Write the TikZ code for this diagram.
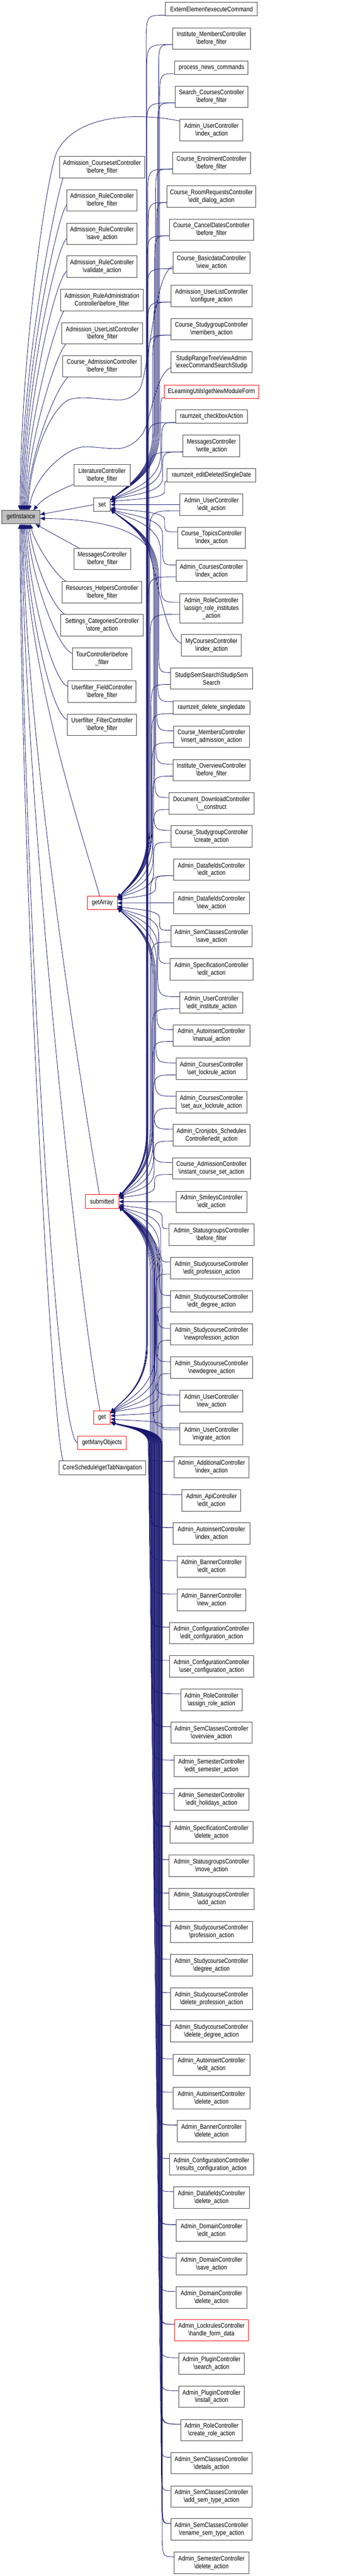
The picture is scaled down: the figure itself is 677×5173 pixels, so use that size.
\documentclass[tikz,border=0pt]{standalone}
\usepackage{fontspec}
\setmainfont{Liberation Sans}[FakeStretch=0.83]
\usetikzlibrary{arrows.meta,calc,backgrounds}
\definecolor{edgecol}{HTML}{191970}
\definecolor{boxgray}{HTML}{404040}
\definecolor{nodegray}{HTML}{BFBFBF}
\newcommand\bs{\textbackslash}
\newcommand\DGnode[7][box]{\node[#1,minimum width=#5*0.75pt,minimum height=#6*0.75pt] (#2) at (#3,-#4) {#7};}
\newcommand\DGright[6][box]{\DGnode[#1]{#2}{424}{#3}{#4}{#5}{#6}}
% #1 cap of final bend (pt), #2 source, #3 target, #4 corridor x (px)
\newcommand\DGedge[4][110]{%
 \draw[calledge] let \p1=(#2.west), \p2=(#3.east),
   \n1={ifthenelse(\y2>\y1,1,-1)}, \n2={abs(\y2-\y1)},
   \n3={min(0.25*\n2,9)}, \n4={min(0.3*\n2,45)}, \n5={min(0.45*\n2,#1)}, \n6={min(0.1*\n2,7)},
   \n7={#4*0.75} in
   (\x1,{\y1+\n1*\n3*1pt})
   .. controls ({\n7*1pt},{\y1+\n1*\n3*1pt}) .. ({\n7*1pt},{\y1+\n1*(\n3+\n4)*1pt})
   -- ({\n7*1pt},{\y2-\n1*\n5*1pt})
   .. controls ({\n7*1pt},{\y2-\n1*0.45*\n5*1pt}) and ({\x2+0.4*(\n7*1pt-\x2)},{\y2-\n1*(\n6+0.2*\n5)*1pt}) .. (\x2,{\y2-\n1*\n6*1pt});%
}
\begin{document}
\begin{tikzpicture}[x=0.75pt,y=0.75pt,
  box/.style={draw=boxgray,line width=0.75pt,fill=white,inner sep=0pt,align=center,font=\fontsize{10}{11.6}\selectfont},
  redbox/.style={box,draw=red},
  graybox/.style={box,fill=nodegray,draw=boxgray},
  calledge/.style={draw=edgecol,line width=0.65pt,-{Triangle[length=7pt,width=6pt]}}]
\useasboundingbox (0,0) rectangle (677,-5173);
% middle column
\DGnode[graybox]{gi}{42}{1038.5}{76}{27}{getInstance}
\DGnode{set}{204.5}{1013.5}{33}{27}{set}
\DGnode[redbox]{getArray}{205}{1813.5}{60}{27}{getArray}
\DGnode[redbox]{submitted}{204.5}{2413}{67}{28}{submitted}
\DGnode[redbox]{get}{204.5}{2846.5}{33}{27}{get}
\DGnode[redbox]{gmo}{204.5}{2897.5}{97}{27}{getManyObjects}
\DGnode{cs}{205}{2947.5}{174}{27}{CoreSchedule\bs getTabNavigation}
% left column
\DGnode{L1}{204.5}{335.5}{171}{43}{Admission\_CoursesetController\\\bs before\_filter}
\DGnode{L2}{204.5}{402.5}{141}{43}{Admission\_RuleController\\\bs before\_filter}
\DGnode{L3}{204.5}{469.5}{141}{43}{Admission\_RuleController\\\bs save\_action}
\DGnode{L4}{204.5}{535.5}{141}{43}{Admission\_RuleController\\\bs validate\_action}
\DGnode{L5}{204.5}{602.5}{165}{43}{Admission\_RuleAdministration\\Controller\bs before\_filter}
\DGnode{L6}{205}{669.5}{162}{43}{Admission\_UserListController\\\bs before\_filter}
\DGnode{L7}{204.5}{735.5}{157}{43}{Course\_AdmissionController\\\bs before\_filter}
\DGnode{L8}{204.5}{954.5}{113}{43}{LiteratureController\\\bs before\_filter}
\DGnode{L9}{205}{1122.5}{114}{43}{MessagesController\\\bs before\_filter}
\DGnode{L10}{204.5}{1189.5}{159}{43}{Resources\_HelpersController\\\bs before\_filter}
\DGnode{L11}{204.5}{1255.5}{165}{43}{Settings\_CategoriesController\\\bs store\_action}
\DGnode{L12}{204.5}{1322.5}{119}{43}{TourController\bs before\\\_filter}
\DGnode{L13}{204.5}{1389}{137}{43}{Userfilter\_FieldController\\\bs before\_filter}
\DGnode{L14}{204.5}{1455.5}{139}{43}{Userfilter\_FilterController\\\bs before\_filter}
% right column
\DGright{r1}{18.5}{184}{27}{ExternElement\bs executeCommand}
\DGright{r2}{77.5}{156}{43}{Institute\_MembersController\\\bs before\_filter}
\DGright{r3}{136}{147}{27}{process\_news\_commands}
\DGright{r4}{194.5}{146}{43}{Search\_CoursesController\\\bs before\_filter}
\DGright{r5}{261}{126}{43}{Admin\_UserController\\\bs index\_action}
\DGright{r6}{327.5}{156}{43}{Course\_EnrolmentController\\\bs before\_filter}
\DGright{r7}{394.5}{178}{43}{Course\_RoomRequestsController\\\bs edit\_dialog\_action}
\DGright{r8}{461.5}{168}{43}{Course\_CancelDatesController\\\bs before\_filter}
\DGright{r9}{527.5}{154}{43}{Course\_BasicdataController\\\bs view\_action}
\DGright{r10}{594.5}{162}{43}{Admission\_UserListController\\\bs configure\_action}
\DGright{r11}{661}{163}{43}{Course\_StudygroupController\\\bs members\_action}
\DGright{r12}{727.5}{162}{43}{StudipRangeTreeViewAdmin\\\bs execCommandSearchStudip}
\DGright[redbox]{r13}{786.5}{189}{27}{ELearningUtils\bs getNewModuleForm}
\DGright{r14}{836.5}{144}{27}{raumzeit\_checkboxAction}
\DGright{r15}{895.5}{114}{43}{MessagesController\\\bs write\_action}
\DGright{r16}{954.5}{178}{27}{raumzeit\_editDeletedSingleDate}
\DGright{r17}{1013.5}{126}{43}{Admin\_UserController\\\bs edit\_action}
\DGright{r18}{1080}{135}{43}{Course\_TopicsController\\\bs index\_action}
\DGright{r19}{1146.5}{142}{43}{Admin\_CoursesController\\\bs index\_action}
\DGright{r20}{1221.5}{126}{59}{Admin\_RoleController\\\bs assign\_role\_institutes\\\_action}
\DGright{r21}{1296}{120}{43}{MyCoursesController\\\bs index\_action}
\DGright{r22}{1362.5}{165}{43}{StudipSemSearch\bs StudipSem\\Search}
\DGright{r23}{1421}{154}{27}{raumzeit\_delete\_singledate}
\DGright{r24}{1479.5}{152}{43}{Course\_MembersController\\\bs insert\_admission\_action}
\DGright{r25}{1546.5}{154}{43}{Institute\_OverviewController\\\bs before\_filter}
\DGright{r26}{1613.5}{170}{43}{Document\_DownloadController\\\bs\_\_construct}
\DGright{r27}{1679.5}{163}{43}{Course\_StudygroupController\\\bs create\_action}
\DGright{r28}{1746.5}{152}{43}{Admin\_DatafieldsController\\\bs edit\_action}
\DGright{r29}{1813}{152}{43}{Admin\_DatafieldsController\\\bs new\_action}
\DGright{r30}{1880}{163}{43}{Admin\_SemClassesController\\\bs save\_action}
\DGright{r31}{1946.5}{166}{43}{Admin\_SpecificationController\\\bs edit\_action}
\DGright{r32}{2013.5}{126}{43}{Admin\_UserController\\\bs edit\_institute\_action}
\DGright{r33}{2079.5}{154}{43}{Admin\_AutoinsertController\\\bs manual\_action}
\DGright{r34}{2146.5}{142}{43}{Admin\_CoursesController\\\bs set\_lockrule\_action}
\DGright{r35}{2213.5}{142}{43}{Admin\_CoursesController\\\bs set\_aux\_lockrule\_action}
\DGright{r36}{2279.5}{154}{43}{Admin\_Cronjobs\_Schedules\\Controller\bs edit\_action}
\DGright{r37}{2346.5}{156}{43}{Course\_AdmissionController\\\bs instant\_course\_set\_action}
\DGright{r38}{2413.5}{142}{43}{Admin\_SmileysController\\\bs edit\_action}
\DGright{r39}{2479.5}{170}{43}{Admin\_StatusgroupsController\\\bs before\_filter}
\DGright{r40}{2546.5}{164}{43}{Admin\_StudycourseController\\\bs edit\_profession\_action}
\DGright{r41}{2613.5}{164}{43}{Admin\_StudycourseController\\\bs edit\_degree\_action}
\DGright{r42}{2679.5}{164}{43}{Admin\_StudycourseController\\\bs newprofession\_action}
\DGright{r43}{2746.5}{164}{43}{Admin\_StudycourseController\\\bs newdegree\_action}
\DGright{r44}{2813.5}{126}{43}{Admin\_UserController\\\bs new\_action}
\DGright{r45}{2879.5}{126}{43}{Admin\_UserController\\\bs migrate\_action}
\DGright{r46}{2946.5}{150}{43}{Admin\_AdditionalController\\\bs index\_action}
\DGright{r47}{3013.5}{118}{43}{Admin\_ApiController\\\bs edit\_action}
\DGright{r48}{3079.5}{154}{43}{Admin\_AutoinsertController\\\bs index\_action}
\DGright{r49}{3146}{138}{43}{Admin\_BannerController\\\bs edit\_action}
\DGright{r50}{3213}{138}{43}{Admin\_BannerController\\\bs new\_action}
\DGright{r51}{3279.5}{168}{43}{Admin\_ConfigurationController\\\bs edit\_configuration\_action}
\DGright{r52}{3346.5}{168}{43}{Admin\_ConfigurationController\\\bs user\_configuration\_action}
\DGright{r53}{3413.5}{123}{43}{Admin\_RoleController\\\bs assign\_role\_action}
\DGright{r54}{3479.5}{163}{43}{Admin\_SemClassesController\\\bs overview\_action}
\DGright{r55}{3546.5}{150}{43}{Admin\_SemesterController\\\bs edit\_semester\_action}
\DGright{r56}{3613.5}{150}{43}{Admin\_SemesterController\\\bs edit\_holidays\_action}
\DGright{r57}{3679.5}{166}{43}{Admin\_SpecificationController\\\bs delete\_action}
\DGright{r58}{3746.5}{170}{43}{Admin\_StatusgroupsController\\\bs move\_action}
\DGright{r59}{3813.5}{170}{43}{Admin\_StatusgroupsController\\\bs add\_action}
\DGright{r60}{3879.5}{164}{43}{Admin\_StudycourseController\\\bs profession\_action}
\DGright{r61}{3946.5}{164}{43}{Admin\_StudycourseController\\\bs degree\_action}
\DGright{r62}{4013.5}{164}{43}{Admin\_StudycourseController\\\bs delete\_profession\_action}
\DGright{r63}{4079.5}{164}{43}{Admin\_StudycourseController\\\bs delete\_degree\_action}
\DGright{r64}{4146.5}{154}{43}{Admin\_AutoinsertController\\\bs edit\_action}
\DGright{r65}{4213.5}{154}{43}{Admin\_AutoinsertController\\\bs delete\_action}
\DGright{r66}{4279.5}{138}{43}{Admin\_BannerController\\\bs delete\_action}
\DGright{r67}{4346.5}{168}{43}{Admin\_ConfigurationController\\\bs results\_configuration\_action}
\DGright{r68}{4413}{152}{43}{Admin\_DatafieldsController\\\bs delete\_action}
\DGright{r69}{4479.5}{142}{43}{Admin\_DomainController\\\bs edit\_action}
\DGright{r70}{4546.5}{142}{43}{Admin\_DomainController\\\bs save\_action}
\DGright{r71}{4613.5}{142}{43}{Admin\_DomainController\\\bs delete\_action}
\DGright[redbox]{r72}{4679.5}{148}{43}{Admin\_LockrulesController\\\bs handle\_form\_data}
\DGright{r73}{4746.5}{132}{43}{Admin\_PluginController\\\bs search\_action}
\DGright{r74}{4813}{132}{43}{Admin\_PluginController\\\bs install\_action}
\DGright{r75}{4880}{123}{43}{Admin\_RoleController\\\bs create\_role\_action}
\DGright{r76}{4946.5}{163}{43}{Admin\_SemClassesController\\\bs details\_action}
\DGright{r77}{5013.5}{163}{43}{Admin\_SemClassesController\\\bs add\_sem\_type\_action}
\DGright{r78}{5079.5}{163}{43}{Admin\_SemClassesController\\\bs rename\_sem\_type\_action}
\DGright{r79}{5146.5}{150}{43}{Admin\_SemesterController\\\bs delete\_action}

\begin{pgfonlayer}{background}
\fill[white] (0,0) rectangle (677,-5173);
% ---- edges into getInstance
\draw[calledge] ([yshift=-3pt]r5.north west) .. controls (300,-230) and (160,-220) .. (115,-303) .. controls (95,-340) and (42,-700) .. ([xshift=-1.5pt]gi.north);
\draw[calledge] ([xshift=6pt]L1.south west) .. controls +(-10,-25) and +(3,320) .. (gi.north);
\draw[calledge] ([yshift=-7pt]L2.west) .. controls +(-18,-20) and +(3,280) .. ([xshift=1.5pt]gi.north);
\draw[calledge] ([yshift=-7pt]L3.west) .. controls +(-22,-20) and +(3,240) .. ([xshift=3pt]gi.north);
\draw[calledge] ([yshift=-7pt]L4.west) .. controls +(-25,-20) and +(3,200) .. ([xshift=4.5pt]gi.north);
\draw[calledge] ([xshift=5pt]L5.south west) .. controls +(-18,-25) and +(3,170) .. ([xshift=6pt]gi.north);
\draw[calledge] ([xshift=6pt]L6.south west) .. controls +(-22,-25) and +(3,130) .. ([xshift=7.5pt]gi.north);
\draw[calledge] ([xshift=8pt]L7.south west) .. controls +(-30,-30) and +(3,100) .. ([xshift=9pt]gi.north);
\draw[calledge] ([yshift=-6pt]r9.west) .. controls (310,-545) and (300,-740) .. (280,-782) .. controls (265,-800) and (250,-804) .. (233,-803) .. controls (200,-802) and (165,-795) .. (140,-802) .. controls (110,-812) and (62,-900) .. ([xshift=10.5pt]gi.north);
\draw[calledge] ([yshift=-8pt]r12.west) .. controls (310,-752) and (302,-850) .. (285,-872) .. controls (270,-893) and (250,-901) .. (233,-901) .. controls (200,-901) and (175,-893) .. (155,-900) .. controls (120,-912) and (68,-960) .. ([xshift=12pt]gi.north);
\draw[calledge] ([yshift=3pt]L8.south west) .. controls +(-35,-15) and +(20,25) .. ([xshift=-10pt]gi.north east);
\draw[calledge] (set.west) -- ([yshift=4pt]gi.east);
\draw[calledge] ([yshift=3pt]r21.west) .. controls (330,-1278) and (318,-1165) .. (296,-1100) .. controls (270,-1060) and (190,-1042) .. ([yshift=-2pt]gi.east);
\draw[calledge] ([xshift=8pt]L9.north west) -- ([xshift=-7pt]gi.south east);
\draw[calledge] ([xshift=6pt]L10.north west) .. controls +(-25,15) and +(8,-35) .. ([xshift=14pt]gi.south);
\draw[calledge] ([xshift=6pt]L11.north west) .. controls +(-30,20) and +(6,-60) .. ([xshift=12pt]gi.south);
\draw[calledge] ([yshift=8pt]L12.west) .. controls +(-30,10) and +(5,-100) .. ([xshift=10pt]gi.south);
\draw[calledge] ([yshift=8pt]L13.west) .. controls +(-30,10) and +(4,-130) .. ([xshift=8pt]gi.south);
\draw[calledge] ([yshift=8pt]L14.west) .. controls +(-32,10) and +(4,-160) .. ([xshift=6pt]gi.south);
\draw[calledge] ([xshift=-4pt]getArray.north) .. controls +(-20,80) and +(4,-300) .. ([xshift=4.5pt]gi.south);
\draw[calledge] ([xshift=-4pt]submitted.north) .. controls +(-25,150) and +(4,-450) .. ([xshift=3pt]gi.south);
\draw[calledge] ([xshift=-3pt]get.north) .. controls +(-40,200) and +(4,-550) .. ([xshift=1.5pt]gi.south);
\draw[calledge] (gmo.west) .. controls +(-45,10) and +(3,-650) .. (gi.south);
\draw[calledge] ([xshift=7pt]cs.north west) .. controls +(-20,30) and +(2,-700) .. ([xshift=-1.5pt]gi.south);
% ---- edges into set
\DGedge{r2}{set}{318} \DGedge{r3}{set}{320} \DGedge{r4}{set}{316}
\DGedge{r6}{set}{312} \DGedge{r7}{set}{314} \DGedge{r8}{set}{310}
\DGedge{r10}{set}{308} \DGedge{r11}{set}{306} \DGedge{r13}{set}{322}
\DGedge{r14}{set}{324} \DGedge{r15}{set}{326} \DGedge{r16}{set}{330}
\DGedge{r17}{set}{330}
\DGedge{r18}{set}{330} \DGedge{r19}{set}{326} \DGedge{r20}{set}{322}
\DGedge{r22}{set}{318} \DGedge{r23}{set}{316} \DGedge{r24}{set}{314}
\DGedge{r25}{set}{312} \DGedge{r26}{set}{310} \DGedge{r27}{set}{308}
% ---- edges into getArray
\DGedge{r6}{getArray}{296} \DGedge{r7}{getArray}{297} \DGedge{r11}{getArray}{298}
\DGedge{r15}{getArray}{299} \DGedge{r17}{getArray}{300} \DGedge{r20}{getArray}{301}
\DGedge{r22}{getArray}{303} \DGedge{r23}{getArray}{304} \DGedge{r24}{getArray}{305}
\DGedge{r25}{getArray}{306} \DGedge{r26}{getArray}{307} \DGedge{r27}{getArray}{308}
\DGedge{r28}{getArray}{312} \DGedge{r29}{getArray}{300}
\DGedge{r30}{getArray}{320} \DGedge{r31}{getArray}{318} \DGedge{r32}{getArray}{316}
\DGedge{r33}{getArray}{314} \DGedge{r34}{getArray}{312} \DGedge{r35}{getArray}{310}
\DGedge{r36}{getArray}{308} \DGedge{r37}{getArray}{306}
% ---- edges into submitted
\DGedge{r2}{submitted}{294} \DGedge{r8}{submitted}{295} \DGedge{r10}{submitted}{296}
\DGedge{r19}{submitted}{297} \DGedge{r28}{submitted}{301} \DGedge{r30}{submitted}{303}
\DGedge{r32}{submitted}{305} \DGedge{r33}{submitted}{306} \DGedge{r34}{submitted}{307}
\DGedge{r35}{submitted}{308} \DGedge{r36}{submitted}{309} \DGedge{r37}{submitted}{310}
\DGedge{r38}{submitted}{300}
\DGedge{r39}{submitted}{325} \DGedge{r40}{submitted}{322} \DGedge{r41}{submitted}{319}
\DGedge{r42}{submitted}{316} \DGedge{r43}{submitted}{313} \DGedge{r44}{submitted}{310}
\DGedge{r45}{submitted}{307}
\foreach \k in {48,51,...,78}{%
  \pgfmathsetmacro\xb{300+(\k-46)*0.8}%
  \DGedge{r\k}{submitted}{\xb}%
}
% ---- edges into get
\DGedge{r1}{get}{293} \DGedge{r4}{get}{294} \DGedge{r9}{get}{295} \DGedge{r14}{get}{296}
\DGedge{r40}{get}{312} \DGedge{r41}{get}{314} \DGedge{r42}{get}{316} \DGedge{r43}{get}{318}
\DGedge{r44}{get}{320} \DGedge[40]{r45}{get}{325}
\foreach \k in {46,...,79}{%
  \pgfmathsetmacro\xa{297+(\k-46)*0.85}%
  \DGedge[40]{r\k}{get}{\xa}%
}
\end{pgfonlayer}
\end{tikzpicture}
\end{document}
